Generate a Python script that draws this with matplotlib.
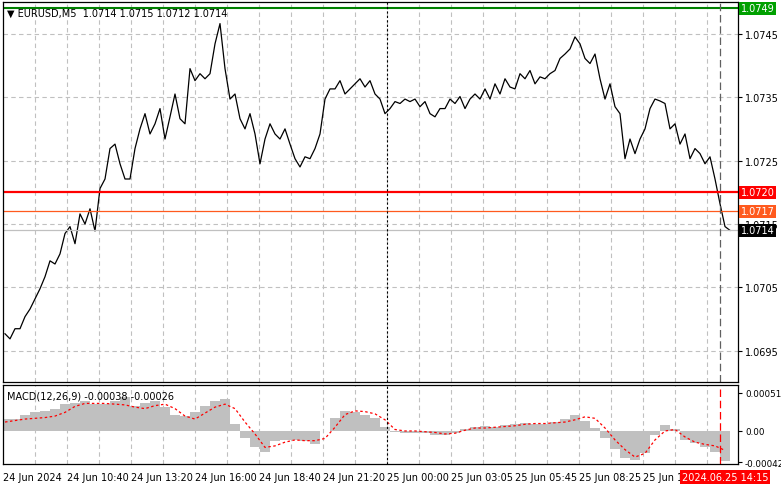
import matplotlib
matplotlib.use("Agg")
import matplotlib.pyplot as plt
import numpy as np

# price, in pips above 1.0690, one point per step
price_pips = [7.7,6.9,8.5,8.5,10.4,11.6,13.2,14.8,16.7,19.2,18.7,20.3,23.5,24.6,21.9,26.6,25.0,27.4,23.9,30.6,
 32.1,36.9,37.6,34.5,32.1,32.1,36.9,40.0,42.4,39.2,40.8,43.2,38.4,41.9,45.5,41.6,40.8,49.5,47.6,48.7,
 47.9,48.7,53.4,56.6,49.5,44.7,45.5,41.6,40.0,42.4,39.2,34.5,38.4,40.8,39.2,38.4,40.0,37.6,35.3,34.0,
 35.6,35.3,36.9,39.2,44.7,46.3,46.3,47.6,45.5,46.3,47.1,47.9,46.6,47.6,45.5,44.7,42.4,43.2,44.3,44.0,
 44.7,44.3,44.7,43.5,44.3,42.4,41.9,43.2,43.2,44.7,44.0,45.1,43.2,44.7,45.5,44.7,46.3,44.7,47.1,45.5,
 47.9,46.6,46.3,48.7,47.9,49.2,47.1,48.2,47.9,48.7,49.2,51.1,51.8,52.6,54.5,53.4,51.1,50.3,51.8,47.9,
 44.7,47.1,43.5,42.4,35.3,38.4,36.1,38.4,40.0,43.2,44.7,44.4,44.0,40.0,40.8,37.6,39.2,35.3,36.9,36.1,
 34.5,35.6,32.1,28.2,24.6,24.0]
# MACD histogram and signal (x1e-5), one value per two steps
macd_hist = [16,16,22,25,27,30,36,38,40,36,36,40,46,34,38,40,32,22,20,25,34,40,43,10,-10,-22,-28,-14,-12,-12,
 -14,-18,0,18,27,26,22,18,5,-2,-3,-3,-3,-5,-6,-3,2,6,7,6,8,9,11,10,10,12,16,21,14,4,-10,-24,-36,-39,-30,-5,8,2,
 -12,-16,-22,-28,-40]
macd_signal = [12,14,16,17,18,20,25,33,37,37,37,36,35,32,30,34,36,30,20,16,24,32,36,30,12,-4,-22,-20,-15,-12,
 -13,-13,-10,5,22,27,26,23,15,2,0,0,-1,-2,-4,-3,1,4,4,5,6,7,9,10,10,11,12,15,19,17,4,-12,-25,-35,-30,-12,0,2,
 -8,-15,-18,-20,-26]
time_labels = ["24 Jun 2024","24 Jun 10:40","24 Jun 13:20","24 Jun 16:00","24 Jun 18:40","24 Jun 21:20",
               "25 Jun 00:00","25 Jun 03:05","25 Jun 05:45","25 Jun 08:25","25 Jun 11:05"]
price_ticks = [1.0695,1.0705,1.0715,1.0725,1.0735,1.0745]
levels = {"high":1.0749,"res":1.0720,"res2":1.0717,"last":1.0714}

W,H=781,489
fig=plt.figure(figsize=(W/100,H/100),dpi=100)
def px2ax(l,t,r,b): return [l/W,1-b/H,(r-l)/W,(b-t)/H]
ax=fig.add_axes(px2ax(3,3,738,383))
am=fig.add_axes(px2ax(3,386,738,465))
pix=lambda p:(p-5)/5.0  # pixel -> step index
xl=(pix(3),pix(738))

prices=1.069+np.array(price_pips)/1e4
x=np.arange(len(prices))
ax.plot(x,prices,color='black',lw=0.9)
ax.set_xlim(*xl); ax.set_ylim(1.06901,1.07500)
gx=[pix(p) for p in range(35,738,32)]
for a in (ax,am):
    for g in gx: a.axvline(g,color='#c0c0c0',ls=(0,(4,3)),lw=0.8,zorder=0)
    a.set_xticks([]); a.yaxis.tick_right()
    for s in a.spines.values(): s.set_linewidth(0.9)
for t in price_ticks: ax.axhline(t,color='#c0c0c0',ls=(0,(4,3)),lw=0.8,zorder=0)
ax.set_yticks(price_ticks); ax.set_yticklabels([f"{t:.4f}" for t in price_ticks],fontsize=7)
ax.tick_params(axis='y',length=3,pad=2)
ax.axhline(levels["high"],color='#008000',lw=1.5)
ax.axhline(levels["res"],color='#ff0000',lw=1.6)
ax.axhline(levels["res2"],color='#ff5a1e',lw=0.9)
ax.axhline(levels["last"],color='#c0c0c0',lw=0.9)
ax.axvline(pix(387),color='black',ls=(0,(2,2)),lw=0.8)
ax.axvline(pix(720),color='#606060',ls=(0,(6,3)),lw=0.9)
for v,fc,tc in [(levels["high"],'#00a000','white'),(levels["res"],'#ff0000','white'),
                (levels["res2"],'#ff5a1e','white'),(levels["last"],'black','white')]:
    ax.text(1.004,v,f"{v:.4f}",transform=ax.get_yaxis_transform(),fontsize=7,color=tc,va='center',ha='left',
            bbox=dict(boxstyle='square,pad=0.15',fc=fc,ec='none'))
ax.text(0.006,0.985,"▼ EURUSD,M5  1.0714 1.0715 1.0712 1.0714",transform=ax.transAxes,fontsize=7,va='top')

hx=np.arange(len(macd_hist))*2
am.bar(hx,np.array(macd_hist)*1e-5,width=2.0,color='#c0c0c0',linewidth=0)
am.plot(hx,np.array(macd_signal)*1e-5,color='red',ls=(0,(2,2)),lw=0.9)
am.set_xlim(*xl); am.set_ylim(-44.3e-5,61.7e-5)
am.axvline(pix(387),color='black',ls=(0,(2,2)),lw=0.8)
am.axvline(pix(720),color='red',ls=(0,(6,3)),lw=0.9)
am.set_yticks([0.00051,0.0,-0.00042]); am.set_yticklabels(["0.00051","0.00","-0.00042"],fontsize=6.3)
am.tick_params(axis='y',length=3,pad=2)
am.text(0.006,0.93,"MACD(12,26,9) -0.00038 -0.00026",transform=am.transAxes,fontsize=7,va='top')

for i,lab in enumerate(time_labels):
    xp=3+64*i
    fig.text(xp/W,1-478/H,lab,fontsize=7,va='center',ha='left')
fig.text(682/W,1-478/H,"2024.06.25 14:15",fontsize=7,va='center',ha='left',color='white',
         bbox=dict(boxstyle='square,pad=0.2',fc='#ff0000',ec='none'))
fig.savefig("out.png",dpi=100)
